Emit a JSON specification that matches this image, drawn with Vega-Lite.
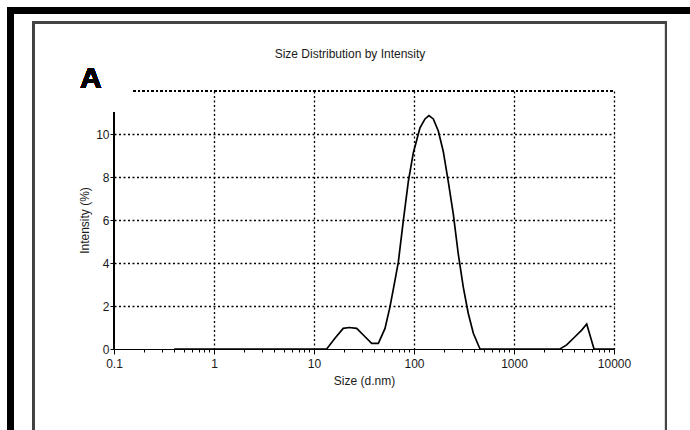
{
  "$schema": "https://vega.github.io/schema/vega-lite/v6.json",
  "width": 500,
  "height": 258,
  "autosize": {"type": "none"},
  "padding": {"left": 114, "top": 91, "right": 76, "bottom": 81},
  "background": "white",
  "config": {
    "view": {"stroke": null},
    "font": "Liberation Sans",
    "axis": {
      "labelFont": "Liberation Sans",
      "titleFont": "Liberation Sans",
      "labelFontSize": 12,
      "titleFontSize": 12,
      "titleFontWeight": "normal",
      "labelColor": "#1a1a1a",
      "titleColor": "#1a1a1a",
      "domainColor": "black",
      "tickColor": "black",
      "gridColor": "black",
      "gridDash": [2, 2.5],
      "gridWidth": 1.3
    }
  },
  "title": {
    "text": "Size Distribution by Intensity",
    "font": "Liberation Sans",
    "fontSize": 12,
    "fontWeight": "normal",
    "color": "#1a1a1a",
    "anchor": "middle",
    "baseline": "bottom",
    "dx": -14,
    "offset": -66
  },
  "data": {
    "values": [
      {"size": 0.4, "intensity": 0},
      {"size": 13.4, "intensity": 0},
      {"size": 16.2, "intensity": 0.5},
      {"size": 19.6, "intensity": 0.96},
      {"size": 22.5, "intensity": 1.0},
      {"size": 26.7, "intensity": 0.96},
      {"size": 32.4, "intensity": 0.57},
      {"size": 37.7, "intensity": 0.26},
      {"size": 44, "intensity": 0.26},
      {"size": 51.3, "intensity": 0.96},
      {"size": 57.5, "intensity": 1.96},
      {"size": 64.6, "intensity": 3.2},
      {"size": 69.7, "intensity": 4.04},
      {"size": 78.2, "intensity": 5.97},
      {"size": 87.8, "intensity": 7.8},
      {"size": 98.5, "intensity": 9.13},
      {"size": 114.8, "intensity": 10.29},
      {"size": 128.8, "intensity": 10.7},
      {"size": 141, "intensity": 10.86},
      {"size": 156, "intensity": 10.7},
      {"size": 175, "intensity": 10.14},
      {"size": 196, "intensity": 9.2},
      {"size": 220, "intensity": 7.8},
      {"size": 247, "intensity": 6.28},
      {"size": 277, "intensity": 4.43},
      {"size": 311, "intensity": 2.88},
      {"size": 349, "intensity": 1.65},
      {"size": 392, "intensity": 0.73},
      {"size": 457, "intensity": 0},
      {"size": 2884, "intensity": 0},
      {"size": 3365, "intensity": 0.19},
      {"size": 4074, "intensity": 0.57},
      {"size": 4753, "intensity": 0.88},
      {"size": 5333, "intensity": 1.16},
      {"size": 6310, "intensity": 0},
      {"size": 10000, "intensity": 0}
    ]
  },
  "layer": [
    {
      "mark": {"type": "line", "color": "black", "strokeWidth": 1.7, "clip": false},
      "encoding": {
        "x": {
          "field": "size",
          "type": "quantitative",
          "scale": {"type": "log", "domain": [0.1, 10000], "nice": false},
          "axis": {
            "title": "Size (d.nm)",
            "values": [0.1,0.2,0.3,0.4,0.5,0.6,0.7,0.8,0.9,1,2,3,4,5,6,7,8,9,10,20,30,40,50,60,70,80,90,100,200,300,400,500,600,700,800,900,1000,2000,3000,4000,5000,6000,7000,8000,9000,10000],
            "labelExpr": "abs(log(datum.value)/LN10 - round(log(datum.value)/LN10)) < 0.001 ? '' + datum.value : ''",
            "labelOverlap": false,
            "labelFlush": false,
            "labelPadding": 4,
            "titlePadding": 6,
            "grid": true,
            "gridOpacity": {"condition": {"test": "abs(log(datum.value)/LN10 - round(log(datum.value)/LN10)) < 0.001 && datum.value > 0.11", "value": 1}, "value": 0},
            "tickSize": {"condition": {"test": "abs(log(datum.value)/LN10 - round(log(datum.value)/LN10)) < 0.001", "value": 5}, "value": 3}
          }
        },
        "y": {
          "field": "intensity",
          "type": "quantitative",
          "scale": {"domain": [0, 12], "nice": false},
          "axis": {
            "title": "Intensity (%)",
            "values": [0,1,2,3,4,5,6,7,8,9,10,11],
            "labelExpr": "datum.value % 2 == 0 ? datum.label : ''",
            "domain": false,
            "labelPadding": 1,
            "titlePadding": 4,
            "grid": true,
            "gridOpacity": {"condition": {"test": "datum.value % 2 == 0 && datum.value > 0", "value": 1}, "value": 0},
            "tickSize": {"condition": {"test": "datum.value % 2 == 1", "value": -5}, "value": 4}
          }
        }
      }
    },
    {
      "mark": {"type": "rule", "color": "black", "strokeWidth": 1, "clip": false},
      "encoding": {
        "x": {"datum": 0.1, "type": "quantitative"},
        "y": {"datum": 0, "type": "quantitative"},
        "y2": {"datum": 11}
      }
    },
    {
      "mark": {"type": "rule", "color": "black", "strokeWidth": 1.3, "strokeDash": [2, 2.5], "clip": false},
      "encoding": {
        "x": {"datum": 0.1567, "type": "quantitative"},
        "x2": {"datum": 10000},
        "y": {"datum": 12, "type": "quantitative"}
      }
    },
    {
      "mark": {"type": "rect", "color": "black", "clip": false},
      "encoding": {
        "x": {"datum": 0.00861, "type": "quantitative"},
        "x2": {"datum": 65000},
        "y": {"datum": 15.9, "type": "quantitative"},
        "y2": {"datum": 15.6}
      }
    },
    {
      "mark": {"type": "rect", "color": "black", "clip": false},
      "encoding": {
        "x": {"datum": 0.00861, "type": "quantitative"},
        "x2": {"datum": 0.01},
        "y": {"datum": 15.9, "type": "quantitative"},
        "y2": {"datum": -5}
      }
    },
    {
      "mark": {"type": "rect", "fillOpacity": 0, "stroke": "#444", "strokeWidth": 2, "clip": false},
      "encoding": {
        "x": {"datum": 0.0158, "type": "quantitative"},
        "x2": {"datum": 33113},
        "y": {"datum": 15.2, "type": "quantitative"},
        "y2": {"datum": -5}
      }
    },
    {
      "mark": {"type": "text", "text": "A", "font": "Liberation Sans", "fontSize": 30, "fontWeight": "bold", "color": "black", "align": "left", "baseline": "alphabetic", "clip": false},
      "encoding": {
        "x": {"datum": 0.0457, "type": "quantitative"},
        "y": {"datum": 12.14, "type": "quantitative"}
      }
    }
  ]
}
